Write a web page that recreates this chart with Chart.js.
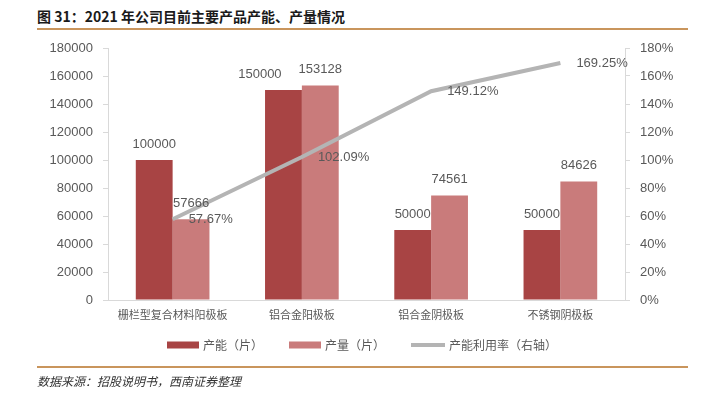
<!DOCTYPE html>
<html>
<head>
<meta charset="utf-8">
<script src="https://cdn.jsdelivr.net/npm/chart.js@4.4.0/dist/chart.umd.min.js"></script>
<style>
  body { margin: 0; background: #fff; }
  #wrap { position: relative; width: 705px; height: 395px; overflow: hidden; }
  #title { position: absolute; left: 37px; top: 6px; font: bold 14px "Noto Sans CJK SC", sans-serif; color: #1a1a1a; white-space: nowrap; }
  .rule { position: absolute; left: 37px; width: 651px; height: 2px; background: #C9955C; }
  #source { position: absolute; left: 37px; top: 372px; font: italic 12px "Noto Sans CJK SC", sans-serif; color: #333; white-space: nowrap; }
  #chartBox { position: absolute; left: 0; top: 0; width: 705px; height: 395px; }
</style>
</head>
<body>
<div id="wrap">
  <div id="title">图 31：2021 年公司目前主要产品产能、产量情况</div>
  <div class="rule" style="top:28px"></div>
  <div id="chartBox"><canvas id="productChart" width="705" height="395"></canvas></div>
  <div class="rule" style="top:366px"></div>
  <div id="source">数据来源：招股说明书，西南证券整理</div>
</div>
<script>
const categories = ['栅栏型复合材料阳极板', '铝合金阳极板', '铝合金阴极板', '不锈钢阴极板']
const capacity = [100000, 150000, 50000, 50000]
const output = [57666, 153128, 74561, 84626]
const utilization = [0.5767, 1.0209, 1.4912, 1.6925]
const seriesNames = ['产能（片）', '产量（片）', '产能利用率（右轴）']

const numFont = '"Liberation Sans", Arial, sans-serif'
const cjkFont = '"Noto Sans CJK SC", sans-serif'
const textColor = '#595959'
const axisColor = '#D9D9D9'

// value labels above bars and next to line points
const labelPlugin = {
  id: 'valueLabels',
  afterDatasetsDraw(chart) {
    const ctx = chart.ctx
    ctx.save()
    ctx.font = '13px ' + numFont
    ctx.fillStyle = textColor
    ctx.textBaseline = 'middle'
    const barA = chart.getDatasetMeta(0).data
    const barB = chart.getDatasetMeta(1).data
    barA.forEach((el, j) => {
      const txtA = String(capacity[j])
      const txtB = String(output[j])
      const wA = ctx.measureText(txtA).width
      const wB = ctx.measureText(txtB).width
      let xA = el.x
      const xB = barB[j].x
      const yA = el.y - 16
      const yB = barB[j].y - 16
      // nudge the left label away when both sit on the same line
      if (Math.abs(yA - yB) < 14 && xA + wA / 2 > xB - wB / 2 - 2) {
        xA = xB - wB / 2 - 17 - wA / 2
      }
      ctx.textAlign = 'center'
      ctx.fillText(txtA, xA, yA)
      ctx.fillText(txtB, xB, yB)
    })
    ctx.textAlign = 'left'
    chart.getDatasetMeta(2).data.forEach((el, j) => {
      ctx.fillText((utilization[j] * 100).toFixed(2) + '%', el.x + 16, el.y)
    })
    ctx.restore()
  }
}

// legend drawn under the axis, left of centre like the source
const legendPlugin = {
  id: 'bottomLegend',
  afterDraw(chart) {
    const ctx = chart.ctx
    const y = 345
    let x = 167
    ctx.save()
    ctx.font = '12px ' + cjkFont
    ctx.textBaseline = 'middle'
    ctx.textAlign = 'left'
    chart.data.datasets.forEach(ds => {
      if (ds.type === 'line') {
        ctx.fillStyle = ds.borderColor
        ctx.fillRect(x, y - 2, 34, 4)
        x += 38
      } else {
        ctx.fillStyle = ds.backgroundColor
        ctx.fillRect(x, y - 3.5, 32, 7)
        x += 36
      }
      ctx.fillStyle = textColor
      ctx.fillText(ds.label, x, y)
      x += ctx.measureText(ds.label).width + 26
    })
    ctx.restore()
  }
}

new Chart(document.getElementById('productChart'), {
  data: {
    labels: categories,
    datasets: [
      {
        type: 'bar',
        label: seriesNames[0],
        data: capacity,
        yAxisID: 'y',
        backgroundColor: '#A84444',
        barPercentage: 1,
        categoryPercentage: 0.57,
        order: 1
      },
      {
        type: 'bar',
        label: seriesNames[1],
        data: output,
        yAxisID: 'y',
        backgroundColor: '#C97B7B',
        barPercentage: 1,
        categoryPercentage: 0.57,
        order: 1
      },
      {
        type: 'line',
        label: seriesNames[2],
        data: utilization,
        yAxisID: 'y1',
        borderColor: '#B4B4B4',
        borderWidth: 4,
        pointRadius: 0,
        tension: 0,
        order: 0
      }
    ]
  },
  options: {
    responsive: false,
    animation: false,
    maintainAspectRatio: false,
    layout: { padding: { top: 48, left: 0, right: 0, bottom: 0 } },
    plugins: {
      legend: { display: false },
      tooltip: { enabled: false }
    },
    scales: {
      x: {
        grid: { display: false, drawTicks: false },
        border: { display: true, color: axisColor },
        ticks: { font: { size: 11, family: cjkFont }, color: textColor, padding: 8, maxRotation: 0 },
        afterFit: scale => { scale.height = 95 }
      },
      y: {
        position: 'left',
        min: 0,
        max: 180000,
        ticks: {
          stepSize: 20000,
          font: { size: 13, family: numFont },
          color: textColor,
          padding: 10,
          callback: v => String(v)
        },
        grid: { drawOnChartArea: false, tickLength: 5, color: axisColor },
        border: { color: axisColor },
        afterFit: scale => { scale.width = 108 }
      },
      y1: {
        position: 'right',
        min: 0,
        max: 1.8,
        ticks: {
          stepSize: 0.2,
          font: { size: 13, family: numFont },
          color: textColor,
          padding: 10,
          callback: v => Math.round(v * 100) + '%'
        },
        grid: { drawOnChartArea: false, tickLength: 5, color: axisColor },
        border: { color: axisColor },
        afterFit: scale => { scale.width = 80 }
      }
    }
  },
  plugins: [labelPlugin, legendPlugin]
})
</script>
</body>
</html>
